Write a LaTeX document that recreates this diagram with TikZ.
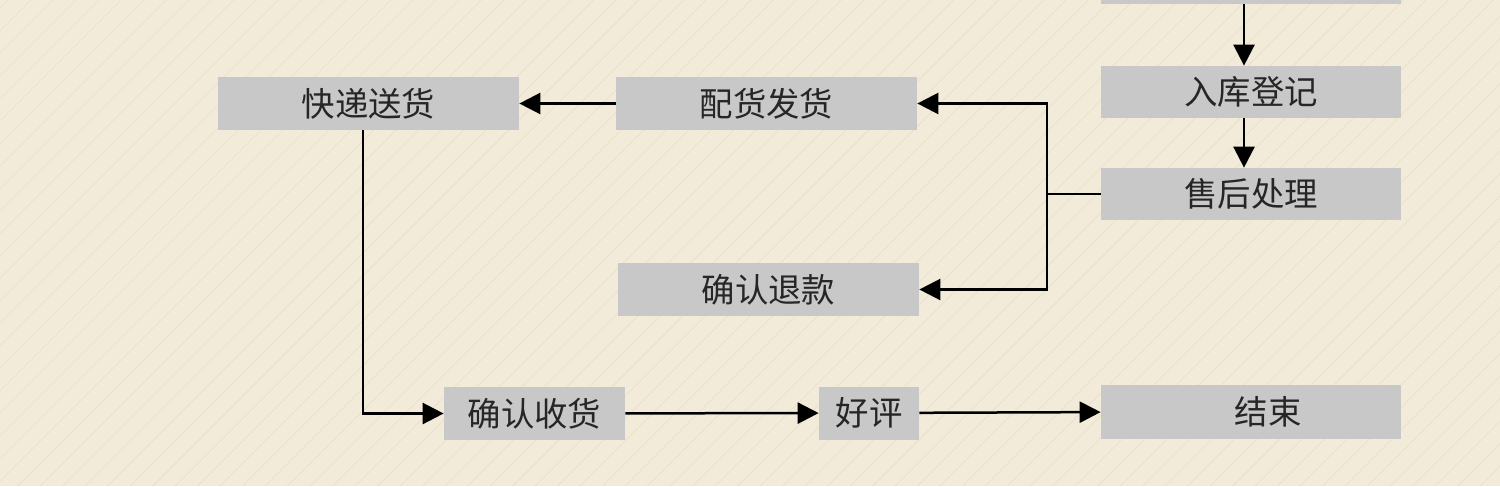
\documentclass[tikz,border=0pt]{standalone}
\usepackage{fontspec}
\usepackage{tikz}
\usetikzlibrary{positioning,calc,arrows.meta}
\newfontfamily\cjkfont{Noto Sans CJK SC}
\definecolor{papercream}{RGB}{242,235,217}
\definecolor{papergrain}{RGB}{232,224,203}
\definecolor{boxgray}{RGB}{200,200,200}
\definecolor{inkdark}{RGB}{38,38,38}

\begin{document}
\begin{tikzpicture}[
   stepbox/.style={fill=boxgray,inner sep=0pt,minimum height=1.06cm,minimum width=6cm,
               align=center,text=inkdark,font=\cjkfont\fontsize{19}{21}\selectfont},
   grain/.style={papergrain,line width=0.4pt},
   link/.style={line width=0.05cm,color=black},
   arr/.style={link,-{Triangle[length=0.42cm,width=0.42cm]}}]
  % paper background
  \fill[papercream] (0,0) rectangle (30,9.72);
  \useasboundingbox (0,0) rectangle (30,9.72);
  \clip (0,0) rectangle (30,9.72);
  \foreach \i in {-10,-9.55,...,30}
    \draw[grain] (\i,0) -- ++(9.72,9.72);
  % steps
  \node[stepbox] (prev) at (25.02,10.17) {};
  \node[stepbox,minimum height=1.04cm] (ruku) at (25.02,7.88) {入库登记};
  \node[stepbox,minimum height=1.04cm] (shouhou) at (25.02,5.84) {售后处理};
  \node[stepbox,minimum width=6.02cm] (peihuo) at (15.33,7.65) {配货发货};
  \node[stepbox,minimum width=6.02cm] (kuaidi) at (7.37,7.65) {快递送货};
  \node[stepbox,minimum width=6.02cm] (tuikuan) at (15.37,3.93) {确认退款};
  \node[stepbox,minimum width=3.62cm] (shouhuo) at (10.69,1.45) {确认收货};
  \node[stepbox,minimum width=2cm] (haoping) at (17.38,1.46) {好评};
  \node[stepbox,minimum height=1.08cm] (jieshu) at (25.02,1.49) {\hspace{0.68cm}结束};
  \coordinate (fork) at (20.94,5.84);
  % flow
  \draw[arr] ([xshift=-0.14cm]prev.south) -- ([xshift=-0.14cm]ruku.north);
  \draw[arr] ([xshift=-0.14cm]ruku.south) -- ([xshift=-0.14cm]shouhou.north);
  \draw[link] (shouhou.west) -- (fork);
  \draw[arr] (fork) |- (peihuo.east);
  \draw[arr] (fork) |- (tuikuan.east);
  \draw[arr] (peihuo) -- (kuaidi);
  \draw[arr] ([xshift=-0.11cm]kuaidi.south) |- (shouhuo.west);
  \draw[arr] (shouhuo) -- (haoping);
  \draw[arr] (haoping) -- (jieshu);
\end{tikzpicture}
\end{document}
